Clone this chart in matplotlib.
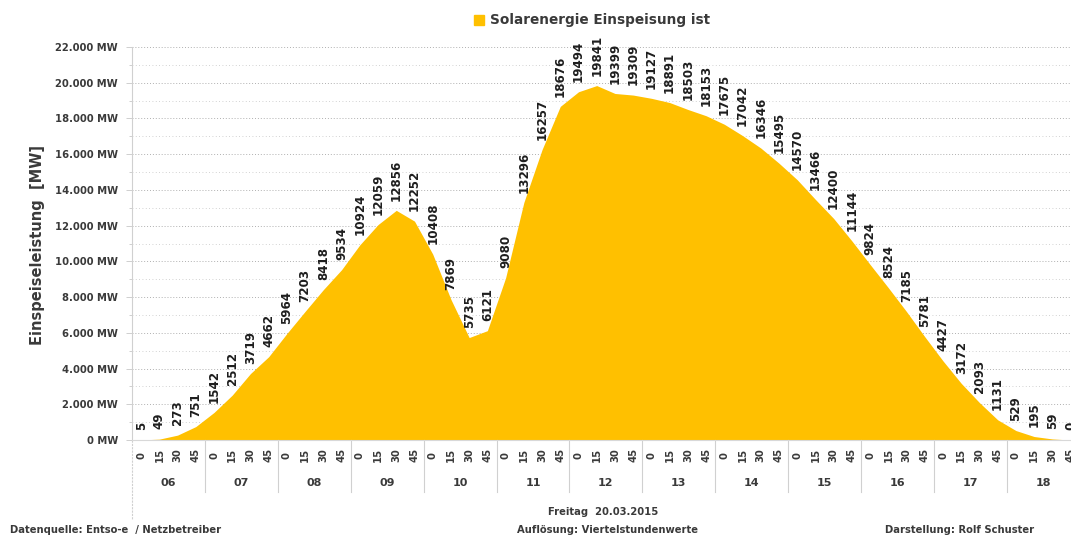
import matplotlib
matplotlib.use("Agg")
import matplotlib.pyplot as plt
from matplotlib.patches import Rectangle
import numpy as np

# Viertelstundenwerte 06:00 - 18:45, Freitag 20.03.2015
hours = ["06", "07", "08", "09", "10", "11", "12", "13", "14", "15", "16", "17", "18"]
minutes = ["0", "15", "30", "45"]
solar_mw = [5, 49, 273, 751, 1542, 2512, 3719, 4662, 5964, 7203, 8418, 9534,
            10924, 12059, 12856, 12252, 10408, 7869, 5735, 6121, 9080, 13296,
            16257, 18676, 19494, 19841, 19399, 19309, 19127, 18891, 18503,
            18153, 17675, 17042, 16346, 15495, 14570, 13466, 12400, 11144,
            9824, 8524, 7185, 5781, 4427, 3172, 2093, 1131, 529, 195, 59, 0]

W, H = 1071, 538
yellow = "#FFC000"
txt = "#3a3a3a"
plt.rcParams['font.family'] = ['DejaVu Sans']

fig = plt.figure(figsize=(W / 100, H / 100), dpi=100)
ax_left, ax_right, ax_top, ax_bot = 132, 1071, 47, 440
ax = fig.add_axes([ax_left / W, 1 - ax_bot / H, (ax_right - ax_left) / W, (ax_bot - ax_top) / H])

x = np.arange(len(solar_mw))
ax.fill_between(x, 0, solar_mw, color=yellow, lw=0, zorder=2)

quarter = 72.9 / 4
ax.set_xlim(-0.5, -0.5 + (ax_right - ax_left) / quarter)
ax.set_ylim(0, 22000)

# y axis
yt = np.arange(0, 22001, 2000)
ax.set_yticks(yt)
ax.set_yticks(np.arange(1000, 22000, 2000), minor=True)
ax.set_yticklabels(["{:,} MW".format(v).replace(",", ".") for v in yt],
                   fontsize=7.2, fontweight="bold", color=txt)
ax.tick_params(axis="y", which="major", length=4, width=0.6, color="#c8c8c8", pad=6)
ax.tick_params(axis="y", which="minor", length=2, width=0.6, color="#c8c8c8")
ax.grid(axis="y", which="major", ls=(0, (1, 2)), color="#b0b0b0", lw=0.7, zorder=1)
ax.grid(axis="y", which="minor", ls=(0, (1, 3)), color="#c4c4c4", lw=0.6, zorder=1)

# x axis: minutes + hours
ax.set_xticks(x)
ax.set_xticklabels(minutes * len(hours), rotation=90, fontsize=7.2,
                   fontweight="bold", color=txt)
for lbl in ax.get_xticklabels():
    lbl.set_va("center")
ax.tick_params(axis="x", length=0, pad=11)

for s in ["top", "right"]:
    ax.spines[s].set_visible(False)
ax.spines["left"].set_color("#d0d0d0")
ax.spines["bottom"].set_color("#d8d8d8")
ax.spines["left"].set_linewidth(0.8)

tr = ax.get_xaxis_transform()
ax_h = ax_bot - ax_top
for i, h in enumerate(hours):
    ax.text(4 * i + 1.5, -43 / ax_h, h, transform=tr, ha="center", va="center",
            fontsize=8, fontweight="bold", color=txt)
    if i > 0:
        ax.plot([4 * i - 0.5] * 2, [0, -52 / ax_h], transform=tr, clip_on=False,
                color="#d0d0d0", lw=0.8)
ax.plot([-0.5, -0.5], [0, -80 / ax_h], transform=tr, clip_on=False,
        color="#d0d0d0", lw=0.8, ls=(0, (2, 1)))

# data labels
for i, v in enumerate(solar_mw):
    ax.annotate(str(v), (i, v), xytext=(0, 7), textcoords="offset points",
                rotation=90, ha="center", va="bottom", fontsize=8.6,
                fontweight="bold", color="#1e1e1e", zorder=3)

ax.set_ylabel("Einspeiseleistung  [MW]", fontsize=10.5, fontweight="bold", color=txt)
ax.yaxis.set_label_coords((45 - ax_left) / (ax_right - ax_left), (ax_bot - 245) / ax_h)

# legend at top
fig.patches.append(Rectangle((474 / W, 1 - 25 / H), 10 / W, 10 / H,
                             transform=fig.transFigure, color=yellow))
fig.text(490 / W, 1 - 20 / H, "Solarenergie Einspeisung ist", ha="left", va="center",
         fontsize=9.8, fontweight="bold", color=txt)

# footer
fig.text(548 / W, 1 - 512 / H, "Freitag  20.03.2015", ha="left", va="center",
         fontsize=7.2, fontweight="bold", color=txt)
fig.text(10 / W, 1 - 530 / H, "Datenquelle: Entso-e  / Netzbetreiber", ha="left",
         va="center", fontsize=7.2, fontweight="bold", color=txt)
fig.text(517 / W, 1 - 530 / H, "Auflösung: Viertelstundenwerte", ha="left",
         va="center", fontsize=7.2, fontweight="bold", color=txt)
fig.text(885 / W, 1 - 530 / H, "Darstellung: Rolf Schuster", ha="left",
         va="center", fontsize=7.2, fontweight="bold", color=txt)

fig.savefig("out.png", dpi=100)
